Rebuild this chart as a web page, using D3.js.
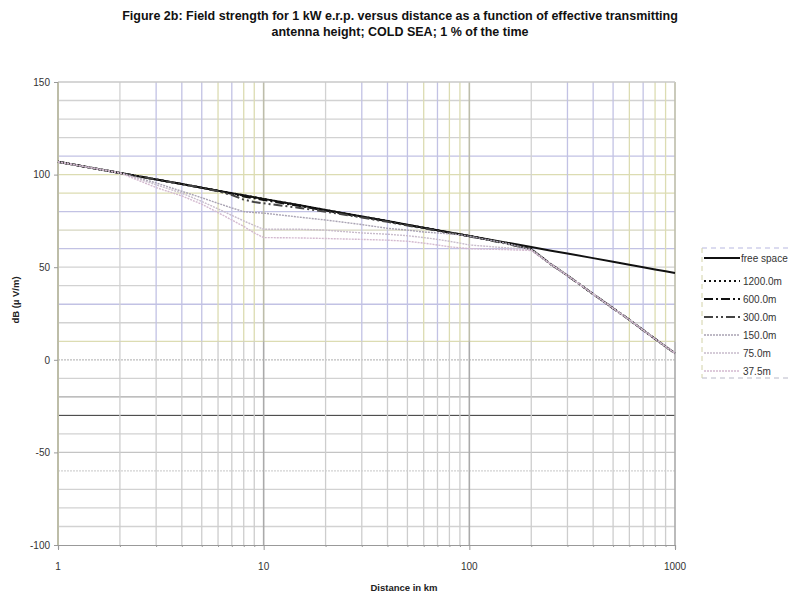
<!DOCTYPE html>
<html><head><meta charset="utf-8">
<script src="https://cdn.jsdelivr.net/npm/d3@7"></script>
<style>body{margin:0;background:#fff}svg{display:block;font-family:Arial,"Liberation Sans",sans-serif}</style>
</head><body>
<svg id="chart" width="792" height="594"></svg>
<script>
// ---------- data ----------
const distances = [1,2,3,4,5,6,7,8,9,10,15,20,30,40,50,60,70,80,90,100,150,200,250,300,400,500,600,700,800,900,1000];
const freeSpace = [106.9,100.9,97.4,94.9,92.9,91.3,90.0,88.8,87.8,86.9,83.4,80.9,77.4,74.9,72.9,71.3,70.0,68.8,67.8,66.9,63.4,60.9,58.9,57.4,54.9,52.9,51.3,50.0,48.8,47.8,46.9];
const h1200 = [106.9,100.9,97.4,94.9,92.9,91.3,90.0,88.8,87.8,86.9,83.4,80.9,77.4,74.9,72.9,71.3,70.0,68.8,67.8,66.9,63.2,59.8,51.5,45.5,35.5,27.8,21.6,16.0,11.3,7.2,3.5];
const h600  = [106.9,100.9,97.4,94.9,92.9,91.2,89.6,88.2,87.2,86.3,83.0,80.6,77.2,74.8,72.8,71.2,69.9,68.7,67.7,66.8,63.0,59.7,51.5,45.5,35.5,27.8,21.6,16.0,11.3,7.2,3.5];
const h300  = [106.9,100.9,97.4,94.9,92.9,91.0,89.0,86.5,85.2,84.5,82.0,80.0,76.8,74.5,72.5,71.0,69.7,68.5,67.5,66.6,62.8,59.6,51.5,45.5,35.5,27.8,21.6,16.0,11.3,7.2,3.5];
const h150  = [106.9,100.9,95.5,91.0,87.5,84.5,82.0,80.0,79.5,79.2,77.0,75.5,73.0,71.0,70.0,69.0,68.5,68.0,67.5,66.7,63.0,59.5,51.5,45.5,35.5,27.8,21.6,16.0,11.3,7.2,3.5];
const h75   = [106.9,100.9,94.5,90.0,85.5,81.5,78.0,75.0,72.5,70.5,70.5,70.0,68.5,67.8,67.0,66.0,65.0,64.0,63.0,62.0,60.5,59.5,51.5,45.5,35.5,27.8,21.6,16.0,11.3,7.2,3.5];
const h37   = [106.9,100.9,93.0,88.5,84.0,79.5,75.5,72.0,68.5,66.0,65.8,65.5,65.0,64.6,64.0,63.0,62.0,61.0,60.5,60.0,59.5,59.0,51.5,45.5,35.5,27.8,21.6,16.0,11.3,7.2,3.5];
const seriesNames = ["free space","1200.0m","600.0m","300.0m","150.0m","75.0m","37.5m"];
const xTickLabels = [1,10,100,1000];
const yTickLabels = [150,100,50,0,-50,-100];
const titleLines = ["Figure 2b: Field strength for 1 kW e.r.p. versus distance as a function of effective transmitting",
                    "antenna height; COLD SEA; 1 %  of the time"];

// ---------- styles ----------
const seriesData = [freeSpace,h1200,h600,h300,h150,h75,h37];
const styles = [
  {c:"#111", w:2, d:null},
  {c:"#111", w:2, d:"2,3"},
  {c:"#111", w:2, d:"9,3,2,3"},
  {c:"#444", w:2, d:"9,3,2,3,2,3"},
  {c:"#a9a3b3", w:1.4, d:"2,1"},
  {c:"#c8bccb", w:1.4, d:"2,1"},
  {c:"#d3b9cf", w:1.4, d:"2,1"}
];

const svg = d3.select("#chart");
const x = d3.scaleLog().domain([1,1000]).range([58,675]);
const y = d3.scaleLinear().domain([-100,150]).range([545,82]);

// ---------- grid ----------
const lav="#c2c2e4", oli="#dcdcb2", gry="#d2d2d2";
const hColors = {140:gry,130:gry,120:gry,110:lav,100:oli,90:oli,80:lav,70:"#d6d6c0",60:lav,50:gry,40:gry,30:lav,20:gry,10:oli,0:"#bdbdbd",
  "-10":gry,"-20":"#a8a8a8","-30":"#333","-40":gry,"-50":"#c4c4c4","-60":gry,"-70":gry,"-80":gry,"-90":gry};
const g = svg.append("g");
d3.range(-90,150,10).forEach(v=>{
  g.append("line").attr("x1",x(1)).attr("x2",x(1000)).attr("y1",y(v)).attr("y2",y(v))
   .attr("stroke",hColors[v]).attr("stroke-width",v===-30?1:1.3)
   .attr("stroke-dasharray",(v===0||v===-60)?"2,1":null);
});
const vTicks = [];
[1,10,100].forEach(b=>{for(let k=2;k<=10;k++) vTicks.push(b*k);});
const vTint = k => ({2:gry,3:lav,4:lav,5:lav,6:oli,7:lav,8:oli,9:oli})[k];
vTicks.forEach(t=>{
  const k = Math.round(t/Math.pow(10,Math.floor(Math.log10(t)+1e-9)));
  const major = (k===1);
  g.append("line").attr("x1",x(t)).attr("x2",x(t)).attr("y1",y(150)).attr("y2",y(10))
   .attr("stroke",major?"#bdbdaa":vTint(k)).attr("stroke-width",major?1.6:1.3);
  g.append("line").attr("x1",x(t)).attr("x2",x(t)).attr("y1",y(10)).attr("y2",y(-100))
   .attr("stroke",major?"#aaaaaa":"#cdcdcd").attr("stroke-width",major?1.6:1.3);
});
// frame
g.append("line").attr("x1",x(1)).attr("x2",x(1000)).attr("y1",y(150)).attr("y2",y(150)).attr("stroke","#c8c8c8").attr("stroke-width",1.3);
g.append("line").attr("x1",x(1)).attr("x2",x(1)).attr("y1",y(150)).attr("y2",y(-100)).attr("stroke","#bdbda8").attr("stroke-width",2);

// ---------- axes ----------
const xAxis = d3.axisBottom(x).tickValues(vTicks.concat([1])).tickSize(4).tickFormat("");
const xa = svg.append("g").attr("transform",`translate(0,${y(-100)})`).call(xAxis);
xa.select(".domain").attr("stroke","#999").attr("stroke-width",1.2);
xa.selectAll(".tick line").attr("stroke","#999").attr("y2",d=>[1,10,100,1000].includes(d)?5:2);
xTickLabels.forEach(v=>{
  svg.append("text").attr("x",x(v)).attr("y",570).attr("text-anchor","middle")
    .attr("font-size",10).attr("fill","#333").text(v);
});
const yAxis = d3.axisLeft(y).tickValues(yTickLabels).tickSize(4).tickFormat(d=>d);
const ya = svg.append("g").attr("transform",`translate(${x(1)},0)`).call(yAxis);
ya.select(".domain").remove();
ya.selectAll(".tick line").attr("stroke","#999");
ya.selectAll(".tick text").attr("font-size",10).attr("fill","#333").attr("x",-8).attr("font-family","Arial,'Liberation Sans',sans-serif");

svg.append("text").attr("x",404).attr("y",591).attr("text-anchor","middle").attr("font-size",9.5)
  .attr("font-weight","bold").attr("fill","#222").text("Distance in km");
svg.append("text").attr("transform","translate(19,300) rotate(-90)").attr("text-anchor","middle")
  .attr("font-size",9.5).attr("font-weight","bold").attr("fill","#222").text("dB (µ V/m)");

// ---------- title ----------
titleLines.forEach((t,i)=>{
  svg.append("text").attr("x",400).attr("y",20+i*16).attr("text-anchor","middle")
    .attr("font-size",12.5).attr("font-weight","bold").attr("fill","#111").text(t);
});

// ---------- series (later series drawn on top) ----------
const line = d3.line().x((d,i)=>x(distances[i])).y(d=>y(d));
seriesData.forEach((sd,s)=>{
  svg.append("path").datum(sd).attr("d",line).attr("fill","none")
    .attr("stroke",styles[s].c).attr("stroke-width",styles[s].w)
    .attr("stroke-dasharray",styles[s].d).attr("stroke-linejoin","round");
});

// ---------- legend ----------
const lg = svg.append("g");
lg.append("line").attr("x1",702).attr("x2",792).attr("y1",248).attr("y2",248).attr("stroke","#b7b7e0").attr("stroke-dasharray","5,4");
lg.append("line").attr("x1",702).attr("x2",792).attr("y1",378).attr("y2",378).attr("stroke","#b8b8c8").attr("stroke-dasharray","5,4");
lg.append("line").attr("x1",702).attr("x2",702).attr("y1",248).attr("y2",378).attr("stroke","#d2d2a8").attr("stroke-dasharray","5,4");
const rowsY = [258,281,299,317,335,353,371];
seriesNames.forEach((n,i)=>{
  lg.append("line").attr("x1",704).attr("x2",740).attr("y1",rowsY[i]).attr("y2",rowsY[i])
    .attr("stroke",styles[i].c).attr("stroke-width",styles[i].w).attr("stroke-dasharray",styles[i].d);
  lg.append("text").attr("x",i===0?741:743).attr("y",rowsY[i]+3.5).attr("font-size",10)
    .attr("fill","#333").text(n);
});
</script>
</body></html>
